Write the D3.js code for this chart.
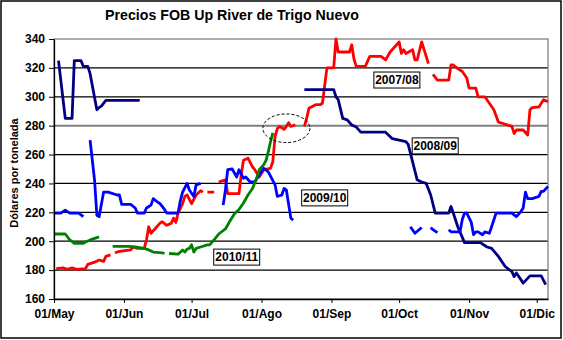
<!DOCTYPE html>
<html><head><meta charset="utf-8">
<script src="https://cdn.jsdelivr.net/npm/d3@7"></script>
<style>
html,body{margin:0;padding:0;background:#fff;}
svg{display:block;font-family:"Liberation Sans",Arial,sans-serif;}
</style></head>
<body><svg id="c" width="563" height="340"></svg>
<script>
const titleText = "Precios FOB Up River de Trigo Nuevo";
const yAxisTitle = "Dólares por tonelada";
const xTickDates = ["05-01","06-01","07-01","08-01","09-01","10-01","11-01","12-01"];
const xTickLabels = ["01/May","01/Jun","01/Jul","01/Ago","01/Sep","01/Oct","01/Nov","01/Dic"];
const yTicks = [160,180,200,220,240,260,280,300,320,340];
const seriesNames = ["2007/08","2008/09","2009/10","2010/11"];
const seriesColors = ["#ff0000","#000080","#0000ff","#008000"];

const red0708 = [["05-02",181],["05-05",181.5],["05-07",180.5],["05-09",181.5],["05-11",180.5],["05-15",181],["05-16",184],["05-19",185.5],["05-21",187],["05-23",186],["05-24",189.5],["05-26",190.5],["05-27",null],["05-28",192],["05-30",193],["06-04",194],["06-05",196],["06-07",195],["06-10",195],["06-11",201],["06-12",210],["06-13",205.5],["06-15",209],["06-17",212.5],["06-18",213.5],["06-20",211],["06-22",212.5],["06-23",216],["06-24",213],["06-25",219.5],["06-27",226],["06-28",231],["06-29",232],["07-01",226],["07-03",232],["07-05",235],["07-06",234],["07-07",null],["07-08",234],["07-11",234],["07-12",null],["07-13",241],["07-16",242.5],["07-17",233],["07-22",233],["07-23",246],["07-24",256],["07-26",257.5],["07-28",251.5],["07-29",249.5],["07-31",244.5],["08-02",249.5],["08-05",250.5],["08-06",255],["08-07",272.5],["08-08",278],["08-09",279.5],["08-11",277.5],["08-12",279.5],["08-13",282],["08-14",279.5],["08-16",280.5],["08-18",null],["08-20",279.5],["08-21",285],["08-22",292],["08-25",294.5],["08-27",294.5],["08-28",295.5],["08-30",320],["09-02",320],["09-03",340],["09-04",331],["09-09",331],["09-10",336],["09-11",326],["09-12",321],["09-16",321],["09-18",328],["09-23",328],["09-25",325.5],["09-27",331],["09-29",334.5],["10-01",338],["10-02",330],["10-03",332.5],["10-04",330],["10-07",332.5],["10-08",325.5],["10-09",325.5],["10-11",338],["10-14",323],["10-15",null],["10-16",315.5],["10-18",311.5],["10-23",311.5],["10-24",322],["10-25",322],["10-27",319.5],["10-29",317.5],["10-31",313],["11-01",306],["11-04",306],["11-05",300],["11-08",300],["11-10",295.5],["11-12",291],["11-14",282.5],["11-16",281.5],["11-20",279.5],["11-21",274.5],["11-22",277],["11-25",277],["11-27",273.5],["11-28",291],["11-29",292.5],["12-02",293],["12-04",298],["12-06",296.5]];

const navy0809 = [["05-03",325],["05-06",285],["05-09",285],["05-10",325],["05-13",325],["05-14",321],["05-16",321],["05-17",316],["05-20",291],["05-21",292.5],["05-22",293.5],["05-24",297.5],["06-08",297.5],["06-09",null],["08-20",305],["09-02",305],["09-03",300],["09-04",298],["09-06",285],["09-08",284],["09-10",280.5],["09-12",279],["09-14",275.5],["09-25",275.5],["09-28",271],["10-01",270],["10-04",269],["10-05",267],["10-06",261],["10-09",242.5],["10-11",241],["10-13",240],["10-15",232],["10-17",219.5],["10-23",219.5],["10-24",224],["10-25",219.5],["10-27",210],["10-30",199],["11-06",199],["11-09",196],["11-11",195],["11-14",189.5],["11-17",182.5],["11-20",179],["11-21",175.5],["11-22",178],["11-25",171],["11-28",176],["12-03",176],["12-05",170]];

const blue0910 = [["05-01",219.5],["05-04",219.5],["05-06",221.5],["05-08",219.5],["05-12",219.5],["05-14",217],["05-15",null],["05-17",270],["05-19",242],["05-20",218],["05-21",217],["05-23",234],["05-25",234],["05-29",232],["05-30",232],["05-31",225.5],["06-04",225.5],["06-06",223],["06-07",219.5],["06-10",219.5],["06-11",223],["06-13",225],["06-14",229.5],["06-16",227],["06-17",226],["06-19",222],["06-20",219.5],["06-25",219.5],["06-26",228],["06-27",234],["06-29",240],["06-30",235.5],["07-02",231],["07-03",239],["07-05",240],["07-06",null],["07-15",225],["07-16",235.5],["07-17",249.5],["07-19",250],["07-21",244.5],["07-22",249.5],["07-24",243.5],["07-25",244.5],["07-27",241],["07-29",241],["07-31",246],["08-02",250.5],["08-04",248],["08-07",239],["08-08",231],["08-10",232],["08-11",236.5],["08-12",235.5],["08-14",216],["08-15",214.5],["08-16",null],["10-06",210],["10-08",205.5],["10-11",209.5],["10-12",null],["10-15",209.5],["10-16",208],["10-18",206],["10-19",null],["10-23",208],["10-24",206.5],["10-28",206.5],["10-29",215],["10-30",219.5],["10-31",219.5],["11-02",213],["11-03",204.5],["11-04",206.5],["11-05",206.5],["11-07",204.5],["11-08",206.5],["11-10",205.5],["11-11",210],["11-13",219.5],["11-20",219.5],["11-22",217],["11-24",220.5],["11-25",223],["11-26",234],["11-27",229.5],["11-29",229.5],["12-02",231],["12-03",234.5],["12-04",234.5],["12-06",238]];

const green1011 = [["05-01",205],["05-06",205],["05-08",201],["05-10",198.5],["05-14",198.5],["05-15",199.5],["05-18",201.5],["05-21",203],["05-22",null],["05-27",196.5],["06-03",196.5],["06-06",196],["06-10",195],["06-12",194],["06-14",192.5],["06-18",192],["06-19",191.5],["06-20",null],["06-21",191.5],["06-25",191],["06-27",194],["06-28",192.5],["06-29",194.5],["06-30",195],["07-01",197.5],["07-02",192.5],["07-03",195],["07-05",196],["07-08",197.5],["07-09",197.5],["07-11",201],["07-13",205],["07-16",208.5],["07-18",214],["07-20",219],["07-22",222],["07-24",226.5],["07-26",232],["07-28",236.5],["07-30",244.5],["07-31",249.5],["08-02",253],["08-03",256],["08-04",262],["08-05",269],["08-06",275]];

const labelDates = ["09-30","10-17","08-29","07-21"];
const labelValues = [311.6,266,230,189];
const ellipseDate = "08-12";
const ellipseValue = 278.2;

const parse = d3.timeParse("%Y-%m-%d");
const dt = s => parse("2001-" + s);

const svg = d3.select("#c");
const L = 54, R = 548, T = 39, B = 299;
const x = d3.scaleTime().domain([dt("05-01"), dt("12-06")]).range([L, R]);
const y = d3.scaleLinear().domain([160, 340]).range([B, T]);

svg.append("rect").attr("width",563).attr("height",340).attr("fill","#fff");
svg.append("rect").attr("x",1).attr("y",1).attr("width",560).attr("height",337)
  .attr("fill","none").attr("stroke","#000").attr("stroke-width",1.5);

// title
svg.append("text").attr("x",232).attr("y",20).attr("text-anchor","middle")
  .attr("font-size",14.2).attr("font-weight","bold").text(titleText);

// gridlines
svg.append("g").selectAll("line").data(yTicks.filter(v => v > 160 && v < 340)).join("line")
  .attr("x1",L).attr("x2",R).attr("y1",d=>y(d)).attr("y2",d=>y(d))
  .attr("stroke",d => d===280 ? "#808080" : "#000").attr("stroke-width",d => d===280 ? 2 : 1.3);

// plot border
svg.append("rect").attr("x",L).attr("y",T).attr("width",R-L).attr("height",B-T)
  .attr("fill","none").attr("stroke","#808080").attr("stroke-width",1.3);

// series
const line = d3.line().defined(d => d[1] !== null).x(d => x(dt(d[0]))).y(d => y(d[1]));
const allSeries = [red0708, navy0809, blue0910, green1011];
svg.append("g").selectAll("path").data(allSeries).join("path")
  .attr("d", d => line(d)).attr("fill","none")
  .attr("stroke",(d,i) => seriesColors[i]).attr("stroke-width",2.8)
  .attr("stroke-linejoin","round").attr("stroke-linecap","butt");

// axes
const yAxis = svg.append("g").attr("transform",`translate(${L},0)`)
  .call(d3.axisLeft(y).tickValues(yTicks).tickSize(5).tickPadding(4).tickSizeOuter(0));
yAxis.select(".domain").attr("stroke","#000").attr("stroke-width",1.3);
yAxis.selectAll(".tick line").attr("stroke","#000");
yAxis.selectAll("text").attr("font-size",12).attr("font-weight","bold").attr("fill","#000")
  .attr("font-family","Liberation Sans, Arial, sans-serif");

const xAxis = svg.append("g").attr("transform",`translate(0,${B})`)
  .call(d3.axisBottom(x).tickValues(xTickDates.map(dt)).tickFormat((d,i) => xTickLabels[i])
    .tickSize(4).tickPadding(6).tickSizeOuter(0));
xAxis.select(".domain").attr("stroke","#000").attr("stroke-width",1.3);
xAxis.selectAll(".tick line").attr("stroke","#000");
xAxis.selectAll("text").attr("font-size",12).attr("font-weight","bold").attr("fill","#000")
  .attr("font-family","Liberation Sans, Arial, sans-serif");

// y-axis title
svg.append("text").attr("transform","translate(18,173) rotate(-90)")
  .attr("text-anchor","middle").attr("font-size",11).attr("font-weight","bold").text(yAxisTitle);

// ellipse annotation
svg.append("ellipse").attr("cx",x(dt(ellipseDate))).attr("cy",y(ellipseValue))
  .attr("rx",23.5).attr("ry",14.3).attr("fill","none").attr("stroke","#000")
  .attr("stroke-width",1).attr("stroke-dasharray","3,2");

// series labels
const lg = svg.append("g").selectAll("g").data(seriesNames).join("g")
  .attr("transform",(d,i) => `translate(${x(dt(labelDates[i]))},${y(labelValues[i])})`);
lg.append("rect").attr("x",-23).attr("y",-8).attr("width",46).attr("height",16)
  .attr("fill","#fff").attr("stroke","#000").attr("stroke-width",1);
lg.append("text").attr("text-anchor","middle").attr("y",4.3).attr("font-size",12)
  .attr("font-weight","bold").text(d => d);
</script></body></html>
